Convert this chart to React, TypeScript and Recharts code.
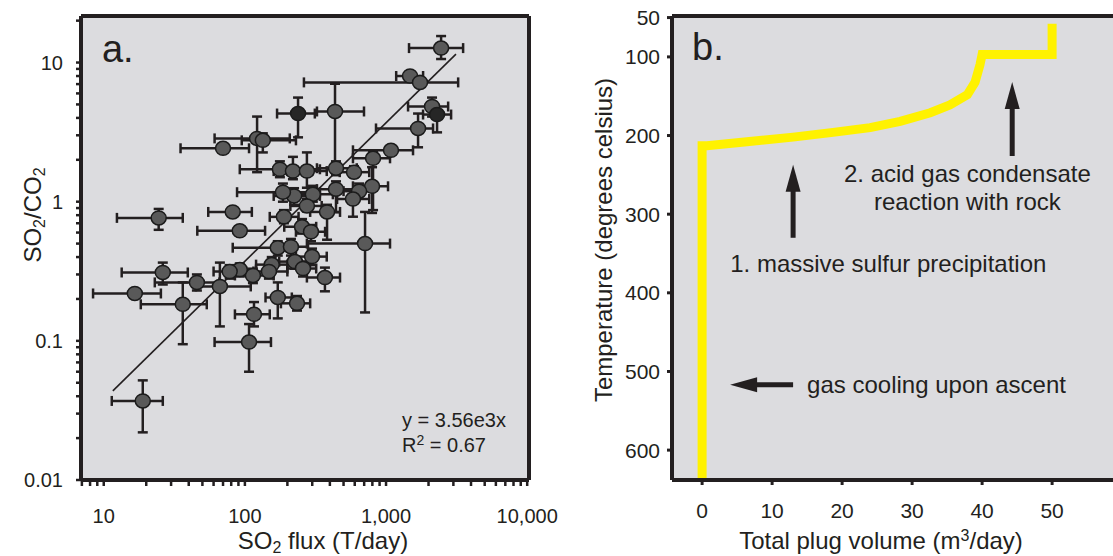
import React from 'react';
import {
  CartesianGrid,
  ErrorBar,
  Line,
  LineChart,
  ReferenceDot,
  ReferenceLine,
  Scatter,
  ScatterChart,
  XAxis,
  YAxis,
} from 'recharts';

const FONT = '"Liberation Sans", Arial, sans-serif';
const INK = '#231f20';
const PANEL_BG = '#dcdcdf';

// ---- panel a: SO2 flux vs SO2/CO2 ----
const FLUX = [
  2455, 1479, 1741, 238, 435, 2118, 2299, 1686, 1084, 809, 796, 644, 583, 442, 593, 442, 303, 223, 186, 177,
  219, 275, 122, 134, 70, 24.5, 82, 92, 189, 275, 382, 254, 294, 171, 212, 299, 710, 155, 226, 258,
  369, 148, 114, 92, 78, 66.5, 45.7, 26.2, 16.6, 36.3, 171, 234, 116, 107, 18.9,
];
const FLUX_RANGE = [
  [1455, 3516], [1180, 1830], [262, 3243], [169, 313], [324, 698], [1432, 2754], [1829, 2890], [849, 2153],
  [583, 1553], [583, 1067], [583, 1033], [500, 800], [450, 760], [324, 620], [470, 760], [324, 690],
  [230, 420], [160, 340], [88, 340], [92, 340], [160, 300], [200, 380], [61, 208], [95, 230], [35, 107],
  [12.4, 36.3], [55, 112], [46, 139], [150, 240], [210, 350], [290, 472], [190, 320], [230, 370], [82, 208],
  [160, 280], [230, 380], [275, 1067], [120, 200], [175, 290], [200, 320], [275, 472], [115, 200], [85, 160],
  [75, 120], [60, 100], [45, 110], [23, 66], [13.4, 39.4], [8.4, 25.4], [18.3, 53.7], [140, 215], [180, 290],
  [85, 150], [61, 153], [11.4, 26.2],
];
const RATIO = [
  12.7, 8.0, 7.2, 4.3, 4.45, 4.83, 4.23, 3.36, 2.34, 2.05, 1.29, 1.19, 1.045, 1.74, 1.63, 1.23, 1.13, 1.1, 1.17, 1.71,
  1.66, 1.66, 2.85, 2.76, 2.42, 0.765, 0.844, 0.618, 0.778, 0.932, 0.844, 0.66, 0.608, 0.467, 0.475, 0.403, 0.5, 0.353, 0.371, 0.331,
  0.285, 0.315, 0.295, 0.325, 0.315, 0.246, 0.263, 0.31, 0.219, 0.183, 0.205, 0.186, 0.155, 0.098, 0.037,
];
const RATIO_RANGE = [
  [10.6, 15.5], [7.6, 8.5], [7.2, 7.2], [2.9, 5.6], [1.74, 7.04], [4.09, 5.6], [3.15, 4.52], [2.46, 4.3],
  [2.34, 2.34], [0.87, 2.3], [0.83, 1.77], [1.05, 1.35], [0.78, 1.2], [1.55, 1.95], [1.5, 1.8], [0.84, 1.4],
  [1.0, 1.3], [0.95, 1.25], [1.0, 1.35], [1.5, 1.95], [1.45, 2.1], [1.26, 2.26], [1.63, 4.09], [2.26, 3.1],
  [2.42, 2.42], [0.628, 0.887], [0.78, 0.9], [0.57, 0.66], [0.7, 0.87], [0.85, 1.05], [0.533, 0.95],
  [0.59, 0.75], [0.52, 0.68], [0.41, 0.52], [0.41, 0.54], [0.35, 0.46], [0.16, 0.844], [0.31, 0.4],
  [0.33, 0.4], [0.29, 0.37], [0.227, 0.336], [0.28, 0.35], [0.26, 0.33], [0.29, 0.36], [0.28, 0.35],
  [0.127, 0.365], [0.23, 0.3], [0.254, 0.365], [0.219, 0.219], [0.0946, 0.263], [0.145, 0.263],
  [0.165, 0.21], [0.127, 0.19], [0.06, 0.132], [0.022, 0.052],
];
const DARK_POINTS = [3, 6];
const FIT_LINE = [
  { x: 11.6, y: 0.0437 },
  { x: 3130, y: 11.5 },
];

const FLUX_TICKS = [
  7, 8, 9, 10, 20, 30, 40, 50, 60, 70, 80, 90, 100, 200, 300, 400, 500, 600, 700, 800, 900, 1000, 2000, 3000,
  4000, 5000, 6000, 7000, 8000, 9000, 10000,
];
const FLUX_LABELS: Record<string, string> = { 10: '10', 100: '100', 1000: '1,000', 10000: '10,000' };
const RATIO_TICKS = [
  0.01, 0.02, 0.03, 0.04, 0.05, 0.06, 0.07, 0.08, 0.09, 0.1, 0.2, 0.3, 0.4, 0.5, 0.6, 0.7, 0.8, 0.9, 1, 2, 3, 4,
  5, 6, 7, 8, 9, 10, 20,
];
const RATIO_LABELS: Record<string, string> = { 0.01: '0.01', 0.1: '0.1', 1: '1', 10: '10' };

// ---- panel b: temperature vs total plug volume ----
const VOLUME = [0, 0, 0.7, 6.4, 13, 18.7, 24, 28.3, 32.6, 35.4, 37.9, 39, 39.7, 40, 50, 50];
const TEMP = [638, 213, 213, 208, 202, 196, 190, 182, 171, 161, 148, 132, 110, 97, 97, 58];
const VOLUME_TICKS = [0, 10, 20, 30, 40, 50];
const TEMP_TICKS = [50, 100, 200, 300, 400, 500, 600];

const ARROWS = [
  { from: { x: 13, y: 330 }, to: { x: 13, y: 237 } },
  { from: { x: 44.3, y: 226 }, to: { x: 44.3, y: 132 } },
  { from: { x: 13, y: 517 }, to: { x: 4, y: 517 } },
];
const NOTES = [
  { text: '2. acid gas condensate', volume: 37.9, temp: 259, anchor: 'middle' },
  { text: 'reaction with rock', volume: 37.9, temp: 295, anchor: 'middle' },
  { text: '1. massive sulfur precipitation', volume: 26.6, temp: 373, anchor: 'middle' },
  { text: 'gas cooling upon ascent', volume: 15, temp: 527, anchor: 'start' },
];

const fluxPoints = FLUX.map((flux, i) => ({
  flux,
  ratio: RATIO[i],
  fluxErr: [flux - FLUX_RANGE[i][0], FLUX_RANGE[i][1] - flux],
  ratioErr: [RATIO[i] - RATIO_RANGE[i][0], RATIO_RANGE[i][1] - RATIO[i]],
  dark: DARK_POINTS.includes(i),
}));

const plugCurve = VOLUME.map((volume, i) => ({ volume, temp: TEMP[i] }));

const textStyle = { fill: INK, fontFamily: FONT };

function labelTick(labels: Record<string, string> | null, anchor: string, size: number) {
  return (p: any) => {
    const value = p.payload?.value;
    const label = labels ? labels[String(value)] : String(value);
    if (!label) return <g />;
    return (
      <text x={p.x} y={p.y} dy="0.36em" textAnchor={anchor} fontSize={size} {...textStyle}>
        {label}
      </text>
    );
  };
}

function note(text: string, anchor: string, size: number) {
  return (p: any) => (
    <text x={p.cx} y={p.cy} textAnchor={anchor} fontSize={size} {...textStyle}>
      {text}
    </text>
  );
}

const Arrow = (p: any) => {
  const { x1, y1, x2, y2 } = p;
  const dx = x2 - x1;
  const dy = y2 - y1;
  const len = Math.hypot(dx, dy) || 1;
  const ux = dx / len;
  const uy = dy / len;
  const headLen = 27;
  const half = 7.5;
  const bx = x2 - ux * headLen;
  const by = y2 - uy * headLen;
  const nx = -uy * half;
  const ny = ux * half;
  return (
    <g>
      <line x1={x1} y1={y1} x2={bx + ux * 2} y2={by + uy * 2} stroke={INK} strokeWidth={5} />
      <polygon points={`${x2},${y2} ${bx + nx},${by + ny} ${bx - nx},${by - ny}`} fill={INK} />
    </g>
  );
};

const FluxTitle = ({ viewBox }: any) => {
  const vb = viewBox || { x: 81, y: 480, width: 448 };
  return (
    <text x={vb.x + vb.width / 2 + 18} y={vb.y + 69} textAnchor="middle" fontSize={24} {...textStyle}>
      SO<tspan fontSize={16} dy={4}>2</tspan>
      <tspan dy={-4}> flux (T/day)</tspan>
    </text>
  );
};

const RatioTitle = ({ viewBox }: any) => {
  const vb = viewBox || { x: 21, y: 16 };
  const x = vb.x + 20;
  const y = vb.y + 199;
  return (
    <text transform={`translate(${x},${y}) rotate(-90)`} textAnchor="middle" fontSize={24} {...textStyle}>
      SO<tspan fontSize={16} dy={4}>2</tspan>
      <tspan dy={-4}>/CO</tspan>
      <tspan fontSize={16} dy={4}>2</tspan>
    </text>
  );
};

const VolumeTitle = ({ viewBox }: any) => {
  const vb = viewBox || { x: 112, y: 480 };
  return (
    <text x={vb.x + 209} y={vb.y + 69} textAnchor="middle" fontSize={24} {...textStyle}>
      Total plug volume (m<tspan fontSize={16} dy={-8}>3</tspan>
      <tspan dy={8}>/day)</tspan>
    </text>
  );
};

const TempTitle = ({ viewBox }: any) => {
  const vb = viewBox || { x: 52, y: 16 };
  const x = vb.x;
  const y = vb.y + 224;
  return (
    <text transform={`translate(${x},${y}) rotate(-90)`} textAnchor="middle" fontSize={24} {...textStyle}>
      Temperature (degrees celsius)
    </text>
  );
};

function FluxRatioPanel() {
  return (
    <ScatterChart width={560} height={556} margin={{ top: 16, right: 31, bottom: 0, left: 21 }}>
      <CartesianGrid fill={PANEL_BG} horizontal={false} vertical={false} />
      <XAxis
        type="number"
        dataKey="flux"
        scale="log"
        domain={[6.9, 10300]}
        allowDataOverflow
        ticks={FLUX_TICKS}
        interval={0}
        height={76}
        tickSize={6}
        tickMargin={30}
        axisLine={{ stroke: INK, strokeWidth: 4 }}
        tickLine={{ stroke: INK, strokeWidth: 2.5 }}
        tick={labelTick(FLUX_LABELS, 'middle', 20)}
        label={<FluxTitle />}
      />
      <YAxis
        type="number"
        dataKey="ratio"
        scale="log"
        domain={[0.01, 21.6]}
        allowDataOverflow
        ticks={RATIO_TICKS}
        interval={0}
        width={60}
        tickSize={5}
        tickMargin={13}
        axisLine={{ stroke: INK, strokeWidth: 4 }}
        tickLine={{ stroke: INK, strokeWidth: 2.5 }}
        tick={labelTick(RATIO_LABELS, 'end', 20)}
        label={<RatioTitle />}
      />
      <ReferenceLine y={21.6} stroke={INK} strokeWidth={4} ifOverflow="visible" />
      <ReferenceLine x={10300} stroke={INK} strokeWidth={4} ifOverflow="visible" />
      <ReferenceLine segment={FIT_LINE} stroke={INK} strokeWidth={1.6} ifOverflow="visible" />
      <Scatter
        data={fluxPoints}
        isAnimationActive={false}
        shape={(p: any) => (
          <ellipse
            cx={p.cx}
            cy={p.cy}
            rx={7.5}
            ry={7}
            fill={p.payload?.dark ? '#262626' : '#595959'}
            stroke="#1b1b1b"
            strokeWidth={1.5}
          />
        )}
      >
        <ErrorBar dataKey="fluxErr" direction="x" width={5} stroke={INK} strokeWidth={2.5} isAnimationActive={false} />
        <ErrorBar dataKey="ratioErr" direction="y" width={5} stroke={INK} strokeWidth={2.5} isAnimationActive={false} />
      </Scatter>
      <ReferenceDot x={9.7} y={10.1} shape={note('a.', 'start', 38)} />
      <ReferenceDot x={1297} y={0.024} shape={note('y = 3.56e3x', 'start', 20)} />
      <ReferenceDot
        x={1297}
        y={0.0159}
        shape={(p: any) => (
          <text x={p.cx} y={p.cy} fontSize={20} {...textStyle}>
            R<tspan fontSize={14} dy={-7}>2</tspan>
            <tspan dy={7}> = 0.67</tspan>
          </text>
        )}
      />
    </ScatterChart>
  );
}

function PlugVolumePanel() {
  return (
    <LineChart width={553} height={556} data={plugCurve} margin={{ top: 16, right: 0, bottom: 0, left: 52 }}>
      <CartesianGrid fill={PANEL_BG} horizontal={false} vertical={false} />
      <XAxis
        type="number"
        dataKey="volume"
        domain={[-4.3, 58.7]}
        allowDataOverflow
        ticks={VOLUME_TICKS}
        interval={0}
        height={76}
        tickSize={5}
        tickMargin={25}
        axisLine={{ stroke: INK, strokeWidth: 4 }}
        tickLine={{ stroke: INK, strokeWidth: 3 }}
        tick={labelTick(null, 'middle', 21)}
        label={<VolumeTitle />}
      />
      <YAxis
        type="number"
        reversed
        domain={[48, 638]}
        allowDataOverflow
        ticks={TEMP_TICKS}
        interval={0}
        width={60}
        tickSize={5}
        tickMargin={7}
        axisLine={{ stroke: INK, strokeWidth: 4 }}
        tickLine={{ stroke: INK, strokeWidth: 3 }}
        tick={labelTick(null, 'end', 21)}
        label={<TempTitle />}
      />
      <ReferenceLine y={48} stroke={INK} strokeWidth={4} ifOverflow="visible" />
      <Line
        dataKey="temp"
        type="linear"
        stroke="#fff200"
        strokeWidth={9}
        strokeLinejoin="miter"
        dot={false}
        activeDot={false}
        isAnimationActive={false}
      />
      {ARROWS.map((a, i) => (
        <ReferenceLine key={`arrow-${i}`} segment={[a.from, a.to]} shape={Arrow} ifOverflow="visible" />
      ))}
      <ReferenceDot x={-1.43} y={104} shape={note('b.', 'start', 38)} />
      {NOTES.map((n) => (
        <ReferenceDot key={n.text} x={n.volume} y={n.temp} shape={note(n.text, n.anchor, 24)} />
      ))}
    </LineChart>
  );
}

export default function App() {
  return (
    <div style={{ position: 'absolute', left: 0, top: 0, width: 1113, height: 556, background: '#fff', fontFamily: FONT }}>
      <div style={{ position: 'absolute', left: 0, top: 0 }}>
        <FluxRatioPanel />
      </div>
      <div style={{ position: 'absolute', left: 560, top: 0 }}>
        <PlugVolumePanel />
      </div>
    </div>
  );
}
